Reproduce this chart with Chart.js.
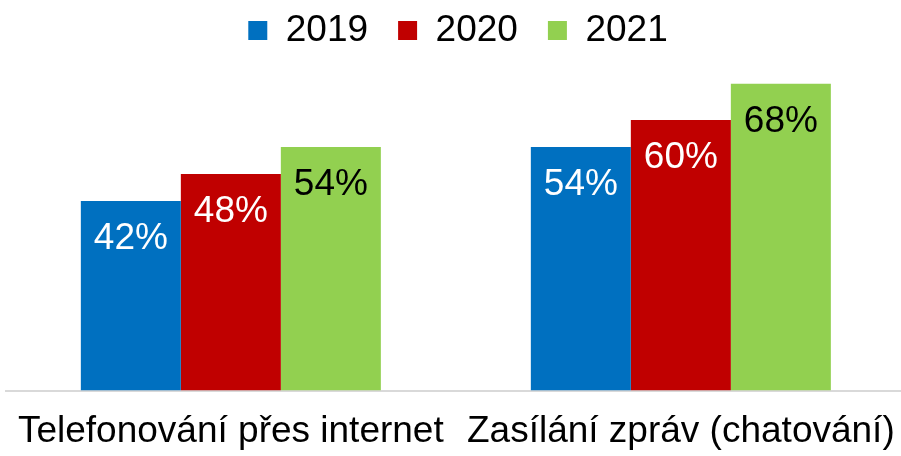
<!DOCTYPE html>
<html>
<head>
<meta charset="utf-8">
<script src="https://cdn.jsdelivr.net/npm/chart.js@4.4.1/dist/chart.umd.min.js"></script>
<style>
  html, body { margin: 0; padding: 0; background: #fff; overflow: hidden; }
  #wrap { width: 901px; height: 456px; overflow: hidden; }
</style>
</head>
<body>
<div id="wrap"><canvas id="c" width="913" height="456"></canvas></div>
<script>
const categories = ["Telefonování přes internet", "Zasílání zpráv (chatování)"];
const years      = ["2019", "2020", "2021"];
const v2019      = [42, 54];
const v2020      = [48, 60];
const v2021      = [54, 68];
const colours    = ["#0070c0", "#c00000", "#92d050"];
const labelInk   = ["#ffffff", "#ffffff", "#000000"];

const FONT = "'Liberation Sans', Arial, sans-serif";

// value labels drawn inside the top of each bar
const barLabels = {
  id: "barLabels",
  afterDatasetsDraw(chart) {
    const ctx = chart.ctx;
    ctx.save();
    ctx.font = `37px ${FONT}`;
    ctx.textAlign = "center";
    ctx.textBaseline = "alphabetic";
    chart.data.datasets.forEach((ds, i) => {
      chart.getDatasetMeta(i).data.forEach((bar, j) => {
        ctx.fillStyle = labelInk[i];
        ctx.fillText(ds.data[j] + "%", bar.x, bar.y + 48);
      });
    });
    ctx.restore();
  }
};

new Chart(document.getElementById("c").getContext("2d"), {
  type: "bar",
  data: {
    labels: categories,
    datasets: [
      { label: years[0], data: v2019, backgroundColor: colours[0] },
      { label: years[1], data: v2020, backgroundColor: colours[1] },
      { label: years[2], data: v2021, backgroundColor: colours[2] }
    ]
  },
  options: {
    responsive: false,
    animation: false,
    layout: { autoPadding: false, padding: { left: 3, right: 0, top: -18, bottom: -17 } },
    datasets: { bar: { categoryPercentage: 0.6667, barPercentage: 1 } },
    plugins: {
      legend: {
        position: "top",
        labels: {
          color: "#000",
          font: { family: FONT, size: 37 },
          boxWidth: 19, boxHeight: 19, padding: 30
        }
      },
      tooltip: { enabled: false }
    },
    scales: {
      x: {
        grid: { display: false, drawTicks: false },
        border: { color: "#d9d9d9", width: 2 },
        ticks: { color: "#000", font: { family: FONT, size: 37, lineHeight: 1.2 }, padding: 19 }
      },
      y: {
        display: false,
        min: 0, max: 73.5
      }
    }
  },
  plugins: [barLabels]
});
</script>
</body>
</html>
